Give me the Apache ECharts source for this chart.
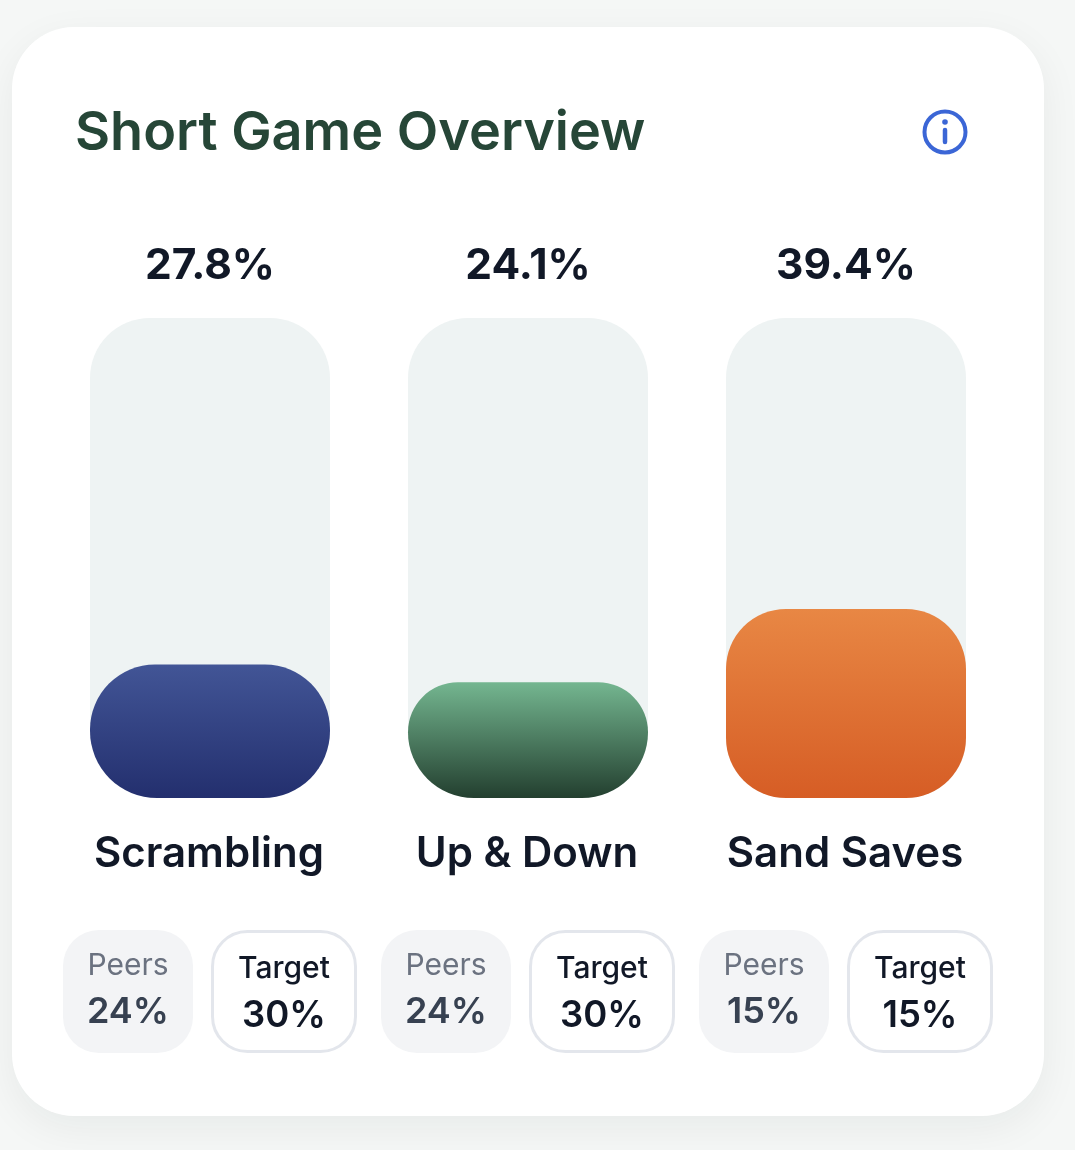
<!DOCTYPE html>
<html><head><meta charset="utf-8">
<style>html,body{margin:0;padding:0;background:#f5f7f6;}#c{width:1075px;height:1150px;}</style>
<script src="https://cdn.jsdelivr.net/npm/echarts@6/dist/echarts.min.js"></script>
</head><body><div id="c"></div>
<script>
const titleText = 'Short Game Overview';
const categories = ['Scrambling', 'Up & Down', 'Sand Saves'];
const values = [27.8, 24.1, 39.4];
const trackMax = [100, 100, 100];
const peers = [24, 24, 15];
const targets = [30, 30, 15];
const peersLabel = 'Peers';
const targetLabel = 'Target';
const gradients = [['#425596', '#232f6e'], ['#74b690', '#233f2f'], ['#e88744', '#d65d25']];
const corners = [[65, 65, 67, 67], [50, 50, 66, 66], [60, 60, 60, 60]];

const font = 'Inter';
const chart = echarts.init(document.getElementById('c'), null, {renderer: 'canvas'});
const gridLeft = 51, gridWidth = 954, step = gridWidth / categories.length;

const pills = [];
categories.forEach((c, i) => {
  const cx = gridLeft + step * (i + 0.5);
  pills.push(
    {type: 'rect', z: 5, shape: {x: cx - 147, y: 930, width: 130, height: 123, r: 36}, style: {fill: '#f3f4f6'}},
    {type: 'text', z: 6, style: {x: cx - 82, y: 966, text: peersLabel, fill: '#6b7280', font: '400 30px ' + font, align: 'center', verticalAlign: 'middle'}},
    {type: 'text', z: 6, style: {x: cx - 82, y: 1012, text: peers[i] + '%', fill: '#374151', font: '600 36px ' + font, align: 'center', verticalAlign: 'middle'}},
    {type: 'rect', z: 5, shape: {x: cx + 2.5, y: 931.5, width: 143, height: 120, r: 35}, style: {fill: '#fff', stroke: '#e3e6ec', lineWidth: 3}},
    {type: 'text', z: 6, style: {x: cx + 74, y: 969, text: targetLabel, fill: '#111827', font: '500 30px ' + font, align: 'center', verticalAlign: 'middle'}},
    {type: 'text', z: 6, style: {x: cx + 74, y: 1016, text: targets[i] + '%', fill: '#111827', font: '600 36.5px ' + font, align: 'center', verticalAlign: 'middle'}}
  );
});

chart.setOption({
  animation: false,
  backgroundColor: 'transparent',
  title: {text: titleText, left: 75, top: 107, padding: 0,
    textStyle: {fontFamily: font, fontSize: 54, fontWeight: 600, color: '#264637'}},
  grid: {left: gridLeft, width: gridWidth, top: 318, height: 480},
  xAxis: {type: 'category', data: categories,
    axisLine: {show: false}, axisTick: {show: false},
    axisLabel: {margin: 35, padding: [0, 2, 0, 0], fontFamily: font, fontSize: 42, fontWeight: 600, color: '#111827'}},
  yAxis: {type: 'value', min: 0, max: 100, show: false},
  graphic: [
    {type: 'rect', z: -10, silent: true, shape: {x: 12, y: 27, width: 1032, height: 1089, r: 62},
      style: {fill: '#fff', shadowColor: 'rgba(20,40,30,0.06)', shadowBlur: 40, shadowOffsetY: 12}},
    {type: 'circle', z: 5, shape: {cx: 945, cy: 132, r: 20.5}, style: {fill: 'none', stroke: '#3b66d6', lineWidth: 4}},
    {type: 'circle', z: 5, shape: {cx: 945, cy: 122, r: 2.8}, style: {fill: '#3b66d6'}},
    {type: 'line', z: 5, shape: {x1: 945, y1: 130, x2: 945, y2: 142}, style: {stroke: '#3b66d6', lineWidth: 4.5, lineCap: 'round'}},
    ...pills
  ],
  series: [
    {type: 'bar', barWidth: 240, barGap: '-100%', silent: true, z: 1,
      data: trackMax.map((v, i) => ({value: v,
        itemStyle: {color: '#eef3f3', borderRadius: [60, 60, corners[i][2], corners[i][3]]},
        label: {show: true, position: 'top', distance: 30, formatter: values[i].toFixed(1) + '%',
          fontFamily: font, fontSize: 42.5, fontWeight: 700, color: '#111827'}}))},
    {type: 'bar', barWidth: 240, barGap: '-100%', silent: true, z: 2,
      data: values.map((v, i) => ({value: v, itemStyle: {
        borderRadius: corners[i],
        color: new echarts.graphic.LinearGradient(0, 0, 0, 1, [
          {offset: 0, color: gradients[i][0]}, {offset: 1, color: gradients[i][1]}])}}))}
  ]
});
</script></body></html>
